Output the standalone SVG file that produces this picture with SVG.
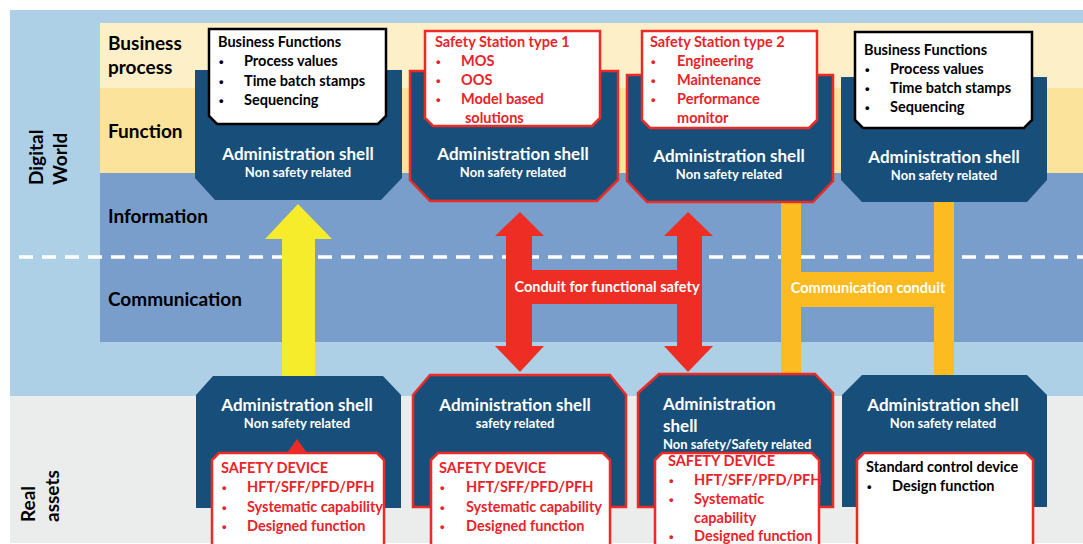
<svg xmlns="http://www.w3.org/2000/svg" width="1083" height="544" viewBox="0 0 1083 544">
<style>
text{font-family:Lato,"Liberation Sans",sans-serif;font-weight:bold}
.band{font-size:19px;fill:#000}
.side{font-size:19px;fill:#000}
.shell{fill:#184F7A}
.redline{stroke:#EC2A26;stroke-width:2.5}
.st{font-size:17px;fill:#fff;text-anchor:middle}
.ss{font-size:13px;fill:#fff;text-anchor:middle}
.stl{font-size:17px;fill:#fff}
.ssl{font-size:13px;fill:#fff}
.boxb{fill:#fff;stroke:#000;stroke-width:2.5}
.boxr{fill:#fff;stroke:#EC2A26;stroke-width:2.5}
.bt{font-size:14.5px;fill:#000}
.rt{font-size:14.5px;fill:#E8242A}
.bb{font-family:"Liberation Sans",sans-serif;font-size:13px;fill:#000}
.rb{font-family:"Liberation Sans",sans-serif;font-size:13px;fill:#E8242A}
.ct{font-size:14.5px;fill:#fff;text-anchor:middle}
</style>
<rect x="0" y="0" width="1083" height="544" fill="#fff"/>
<rect x="10" y="10" width="1073" height="386" fill="#AED0E6"/>
<rect x="10" y="396" width="1073" height="147" fill="#EBECEC"/>
<rect x="100" y="23" width="983" height="65" fill="#FDF0C9"/>
<rect x="100" y="88" width="983" height="85" fill="#FCE39B"/>
<rect x="100" y="173" width="983" height="169" fill="#7A9ECB"/>
<line x1="19" y1="257" x2="1083" y2="257" stroke="#fff" stroke-width="3.5" stroke-dasharray="14 9"/>
<g id="labels">
<text class="band" x="108" y="50">Business</text>
<text class="band" x="108" y="74">process</text>
<text class="band" x="108" y="138">Function</text>
<text class="band" x="108" y="223">Information</text>
<text class="band" x="108" y="306">Communication</text>
<text class="side" transform="translate(43,185) rotate(-90)">Digital</text>
<text class="side" transform="translate(67,185) rotate(-90)">World</text>
<text class="side" transform="translate(35,522) rotate(-90)">Real</text>
<text class="side" transform="translate(59,522) rotate(-90)">assets</text>
</g>
<g id="connectors">
<path id="yellow-arrow" d="M298,204 L332,239 L315,239 L315,379 L282,379 L282,239 L265,239 Z" fill="#F7EC2B"/>
<path id="safety-conduit" d="M520,212 L544,236 L532,236 L532,270 L677,270 L677,236 L664,236 L688,212 L713,236 L702,236 L702,346 L713,346 L688,372 L664,346 L677,346 L677,304 L532,304 L532,346 L544,346 L520,372 L495,346 L506,346 L506,236 L495,236 Z" fill="#EE2D24"/>
<text class="ct" x="607" y="292">Conduit for functional safety</text>
<path id="comm-conduit" d="M781,202 H801 V272 H934 V202 H954 V381 H934 V307 H801 V378 H781 Z" fill="#FBBB21"/>
<text class="ct" x="868" y="293">Communication conduit</text>
</g>
<g id="top-shell-1">
<polygon class="shell" points="195,70 402,70 402,178 381,200 215,200 195,178"/>
<text class="st" x="298" y="160">Administration shell</text>
<text class="ss" x="298" y="177">Non safety related</text>
</g>
<g id="top-shell-2">
<polygon class="shell redline" points="410,71 618,71 618,180 597,201 430,201 410,180"/>
<text class="st" x="513" y="160">Administration shell</text>
<text class="ss" x="513" y="177">Non safety related</text>
</g>
<g id="top-shell-3">
<polygon class="shell redline" points="627,75 833,75 833,181 813,202 647,202 627,181"/>
<text class="st" x="729" y="162">Administration shell</text>
<text class="ss" x="729" y="179">Non safety related</text>
</g>
<g id="top-shell-4">
<polygon class="shell" points="841,77 1047,77 1047,180 1027,202 862,202 841,180"/>
<text class="st" x="944" y="163">Administration shell</text>
<text class="ss" x="944" y="180">Non safety related</text>
</g>
<g id="callout-1">
<path class="boxb" d="M209,29 H386 V116 L378,124 H217 L209,116 Z"/>
<text class="bt" x="218" y="47">Business Functions</text>
<text class="bb" x="219" y="66">•</text><text class="bt" x="244" y="66">Process values</text>
<text class="bb" x="219" y="86">•</text><text class="bt" x="244" y="86">Time batch stamps</text>
<text class="bb" x="219" y="105">•</text><text class="bt" x="244" y="105">Sequencing</text>
</g>
<g id="callout-2">
<path class="boxr" d="M425,31 H600 V118 L592,126 H433 L425,118 Z"/>
<text class="rt" x="435" y="47">Safety Station type 1</text>
<text class="rb" x="436" y="66">•</text><text class="rt" x="461" y="66">MOS</text>
<text class="rb" x="436" y="85">•</text><text class="rt" x="461" y="85">OOS</text>
<text class="rb" x="436" y="104">•</text><text class="rt" x="461" y="104">Model based</text>
<text class="rt" x="465" y="123">solutions</text>
</g>
<g id="callout-3">
<path class="boxr" d="M642,31 H817 V120 L809,128 H650 L642,120 Z"/>
<text class="rt" x="650" y="47">Safety Station type 2</text>
<text class="rb" x="651" y="66">•</text><text class="rt" x="677" y="66">Engineering</text>
<text class="rb" x="651" y="85">•</text><text class="rt" x="677" y="85">Maintenance</text>
<text class="rb" x="651" y="104">•</text><text class="rt" x="677" y="104">Performance</text>
<text class="rt" x="677" y="123">monitor</text>
</g>
<g id="callout-4">
<path class="boxb" d="M855,32 H1032 V120 L1024,128 H863 L855,120 Z"/>
<text class="bt" x="864" y="55">Business Functions</text>
<text class="bb" x="865" y="74">•</text><text class="bt" x="890" y="74">Process values</text>
<text class="bb" x="865" y="93">•</text><text class="bt" x="890" y="93">Time batch stamps</text>
<text class="bb" x="865" y="112">•</text><text class="bt" x="890" y="112">Sequencing</text>
</g>
<g id="bottom-shell-1">
<polygon class="shell" points="196,395 213,376 383,376 401,395 401,508 196,508"/>
<text class="st" x="297" y="411">Administration shell</text>
<text class="ss" x="297" y="428">Non safety related</text>
<polygon points="297,439 307,453 287,453" fill="#EC2A26"/>
<path class="boxr" d="M212,560 V460 L219,453 H377 L384,460 V560 Z"/>
<text class="rt" x="221" y="473">SAFETY DEVICE</text>
<text class="rb" x="222" y="492">•</text><text class="rt" x="247" y="492">HFT/SFF/PFD/PFH</text>
<text class="rb" x="222" y="512">•</text><text class="rt" x="247" y="512">Systematic capability</text>
<text class="rb" x="222" y="531">•</text><text class="rt" x="247" y="531">Designed function</text>
</g>
<g id="bottom-shell-2">
<polygon class="shell redline" points="413,395 430,375 610,375 626,395 626,507 413,507"/>
<text class="st" x="515" y="411">Administration shell</text>
<text class="ss" x="515" y="428">safety related</text>
<path class="boxr" d="M431,560 V460 L438,453 H603 L610,460 V560 Z"/>
<text class="rt" x="439" y="473">SAFETY DEVICE</text>
<text class="rb" x="440" y="492">•</text><text class="rt" x="466" y="492">HFT/SFF/PFD/PFH</text>
<text class="rb" x="440" y="512">•</text><text class="rt" x="466" y="512">Systematic capability</text>
<text class="rb" x="440" y="531">•</text><text class="rt" x="466" y="531">Designed function</text>
</g>
<g id="bottom-shell-3">
<polygon class="shell redline" points="638,393 659,374 815,374 833,393 833,507 638,507"/>
<text class="stl" x="663" y="410">Administration</text>
<text class="stl" x="663" y="432">shell</text>
<text class="ssl" x="663" y="449">Non safety/Safety related</text>
<path class="boxr" d="M655,560 V460 L662,453 H812 L819,460 V560 Z"/>
<text class="rt" x="668" y="466">SAFETY DEVICE</text>
<text class="rb" x="669" y="485">•</text><text class="rt" x="694" y="485">HFT/SFF/PFD/PFH</text>
<text class="rb" x="669" y="504">•</text><text class="rt" x="694" y="504">Systematic</text>
<text class="rt" x="694" y="523">capability</text>
<text class="rb" x="669" y="541">•</text><text class="rt" x="694" y="541">Designed function</text>
</g>
<g id="bottom-shell-4">
<polygon class="shell" points="842,395 862,375 1027,375 1047,395 1047,507 842,507"/>
<text class="st" x="943" y="411">Administration shell</text>
<text class="ss" x="943" y="428">Non safety related</text>
<path class="boxr" d="M857,560 V460 L864,453 H1026 L1033,460 V560 Z"/>
<text class="bt" x="866" y="472">Standard control device</text>
<text class="bb" x="867" y="491">•</text><text class="bt" x="892" y="491">Design function</text>
</g>
</svg>
